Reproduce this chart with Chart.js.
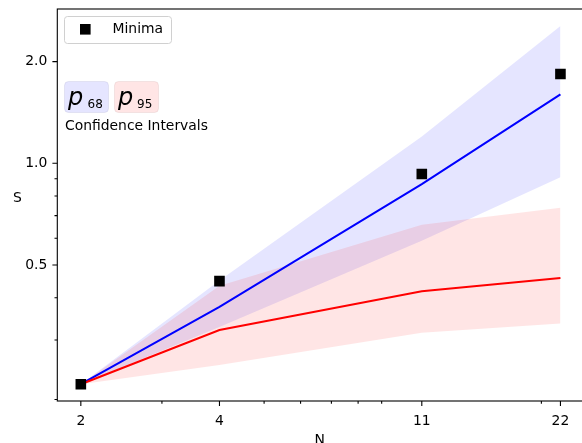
<!DOCTYPE html>
<html>
<head>
<meta charset="utf-8">
<script src="https://cdn.jsdelivr.net/npm/chart.js@4.4.1/dist/chart.umd.min.js"></script>
<style>
  html, body { margin: 0; padding: 0; background: #fff; overflow: hidden; }
  #wrap { width: 582px; height: 443px; overflow: hidden; }
  #chart { width: 600px; height: 443px; display: block; }
</style>
</head>
<body>
<div id="wrap"><canvas id="chart" width="600" height="443"></canvas></div>
<script>
// x values (log scale)
const N = [2, 4, 11, 22];

// series
const minima = [0.222, 0.448, 0.930, 1.838];
const s68 = [0.222, 0.376, 0.868, 1.60];
const s95 = [0.222, 0.321, 0.418, 0.458];
const p68Low = [0.222, 0.328, 0.590, 0.909];
const p68High = [0.222, 0.450, 1.200, 2.550];
const p95Low = [0.222, 0.253, 0.315, 0.336];
const p95High = [0.222, 0.434, 0.658, 0.739];

// ticks
const xTicks = [2, 4, 11, 22];
const xMinorTicks = [3, 5, 6, 7, 8, 9, 20];
const yTicks = [0.5, 1.0, 2.0];
const yMinorTicks = [0.2, 0.3, 0.4, 0.6, 0.7, 0.8, 0.9];

const FONT = "'DejaVu Sans', sans-serif";

const pts = ys => N.map((x, i) => ({ x: x, y: ys[i] }));

function roundRect(ctx, x, y, w, h, r) {
  ctx.beginPath();
  ctx.moveTo(x + r, y);
  ctx.lineTo(x + w - r, y);
  ctx.quadraticCurveTo(x + w, y, x + w, y + r);
  ctx.lineTo(x + w, y + h - r);
  ctx.quadraticCurveTo(x + w, y + h, x + w - r, y + h);
  ctx.lineTo(x + r, y + h);
  ctx.quadraticCurveTo(x, y + h, x, y + h - r);
  ctx.lineTo(x, y + r);
  ctx.quadraticCurveTo(x, y, x + r, y);
  ctx.closePath();
}

// no extra padding from the tick labels
function noPad(s) {
  s.paddingTop = 0; s.paddingBottom = 0;
  s.paddingLeft = 0; s.paddingRight = 0;
}

// spines, tick marks, legend and the text boxes
const decor = {
  id: 'decor',
  afterDraw(chart) {
    const { ctx, chartArea: a, scales: { x, y } } = chart;
    ctx.save();
    ctx.strokeStyle = '#000';
    ctx.lineWidth = 1.1;
    ctx.strokeRect(a.left, a.top, a.right - a.left, a.bottom - a.top);

    ctx.beginPath();
    xTicks.forEach(v => {
      const px = x.getPixelForValue(v);
      ctx.moveTo(px, a.bottom); ctx.lineTo(px, a.bottom + 4.9);
    });
    xMinorTicks.forEach(v => {
      const px = x.getPixelForValue(v);
      ctx.moveTo(px, a.bottom); ctx.lineTo(px, a.bottom + 2.8);
    });
    yTicks.forEach(v => {
      const py = y.getPixelForValue(v);
      ctx.moveTo(a.left, py); ctx.lineTo(a.left - 4.9, py);
    });
    yMinorTicks.forEach(v => {
      const py = y.getPixelForValue(v);
      ctx.moveTo(a.left, py); ctx.lineTo(a.left - 2.8, py);
    });
    ctx.stroke();

    // axis titles
    ctx.fillStyle = '#000';
    ctx.font = '13.9px ' + FONT;
    ctx.textAlign = 'center';
    ctx.textBaseline = 'middle';
    ctx.fillText('S', 17.5, 198.5);
    ctx.textBaseline = 'alphabetic';
    ctx.fillText('N', x.getPixelForValue(6.6), 444);

    // legend
    roundRect(ctx, 64.5, 16.5, 107, 27, 3);
    ctx.fillStyle = 'rgba(255,255,255,0.8)';
    ctx.fill();
    ctx.strokeStyle = '#d0d0d0';
    ctx.lineWidth = 1;
    ctx.stroke();
    ctx.fillStyle = '#000';
    ctx.fillRect(80, 24, 10.6, 10.6);
    ctx.textAlign = 'left';
    ctx.textBaseline = 'middle';
    ctx.fillText('Minima', 112.5, 29.5);

    // confidence interval boxes
    roundRect(ctx, 64.5, 81.5, 44, 31, 4);
    ctx.fillStyle = 'rgba(0,0,255,0.1)';
    ctx.fill();
    ctx.strokeStyle = 'rgba(0,0,80,0.07)';
    ctx.stroke();
    roundRect(ctx, 114.5, 81.5, 44, 31, 4);
    ctx.fillStyle = 'rgba(255,0,0,0.1)';
    ctx.fill();
    ctx.strokeStyle = 'rgba(80,0,0,0.07)';
    ctx.stroke();

    ctx.fillStyle = '#000';
    ctx.textBaseline = 'alphabetic';
    ctx.font = 'italic 24px ' + FONT;
    ctx.fillText('p', 68, 104.5);
    ctx.fillText('p', 118, 104.5);
    ctx.font = '12px ' + FONT;
    ctx.fillText('68', 87.5, 107.5);
    ctx.fillText('95', 137, 107.5);

    ctx.font = '13.9px ' + FONT;
    ctx.fillText('Confidence Intervals', 65, 129.5);
    ctx.restore();
  }
};

const chart = new Chart(document.getElementById('chart').getContext('2d'), {
  type: 'line',
  data: {
    datasets: [
      {
        label: 'Minima',
        data: pts(minima),
        showLine: false,
        pointStyle: 'rect',
        pointRadius: 7.5,
        pointBorderWidth: 0,
        backgroundColor: '#000',
        borderColor: '#000',
        order: 0,
      },
      {
        label: 'p95',
        data: pts(s95),
        borderColor: '#ff0000',
        borderWidth: 2,
        pointRadius: 0,
        fill: false,
        order: 1,
      },
      {
        label: 'p68',
        data: pts(s68),
        borderColor: '#0000ff',
        borderWidth: 2,
        pointRadius: 0,
        fill: false,
        order: 2,
      },
      {
        label: 'p95 low',
        data: pts(p95Low),
        borderColor: 'transparent',
        borderWidth: 0,
        pointRadius: 0,
        fill: false,
        order: 5,
      },
      {
        label: 'p95 high',
        data: pts(p95High),
        borderColor: 'transparent',
        borderWidth: 0,
        pointRadius: 0,
        fill: '-1',
        backgroundColor: 'rgba(255,0,0,0.1)',
        order: 5,
      },
      {
        label: 'p68 low',
        data: pts(p68Low),
        borderColor: 'transparent',
        borderWidth: 0,
        pointRadius: 0,
        fill: false,
        order: 6,
      },
      {
        label: 'p68 high',
        data: pts(p68High),
        borderColor: 'transparent',
        borderWidth: 0,
        pointRadius: 0,
        fill: '-1',
        backgroundColor: 'rgba(0,0,255,0.1)',
        order: 6,
      },
    ],
  },
  options: {
    responsive: false,
    devicePixelRatio: 1,
    animation: false,
    layout: { padding: { top: 9, right: 16, left: 0, bottom: 0 } },
    plugins: {
      legend: { display: false },
      tooltip: { enabled: false },
    },
    scales: {
      x: {
        type: 'logarithmic',
        min: 1.778,
        max: 24.75,
        grid: { display: false, drawTicks: false },
        border: { display: false },
        afterBuildTicks: s => { s.ticks = xTicks.map(v => ({ value: v })); },
        afterFit: s => { s.height = 42; noPad(s); },
        ticks: {
          autoSkip: false,
          maxRotation: 0,
          padding: 12.5,
          color: '#000',
          font: { family: FONT, size: 13.9 },
          callback: v => String(v),
        },
      },
      y: {
        type: 'logarithmic',
        min: 0.198,
        max: 2.862,
        grid: { display: false, drawTicks: false },
        border: { display: false },
        afterBuildTicks: s => { s.ticks = yTicks.map(v => ({ value: v })); },
        afterFit: s => { s.width = 57.3; noPad(s); },
        ticks: {
          autoSkip: false,
          padding: 10,
          color: '#000',
          font: { family: FONT, size: 13.9 },
          callback: v => Number(v).toFixed(1),
        },
      },
    },
  },
  plugins: [decor],
});
</script>
</body>
</html>
